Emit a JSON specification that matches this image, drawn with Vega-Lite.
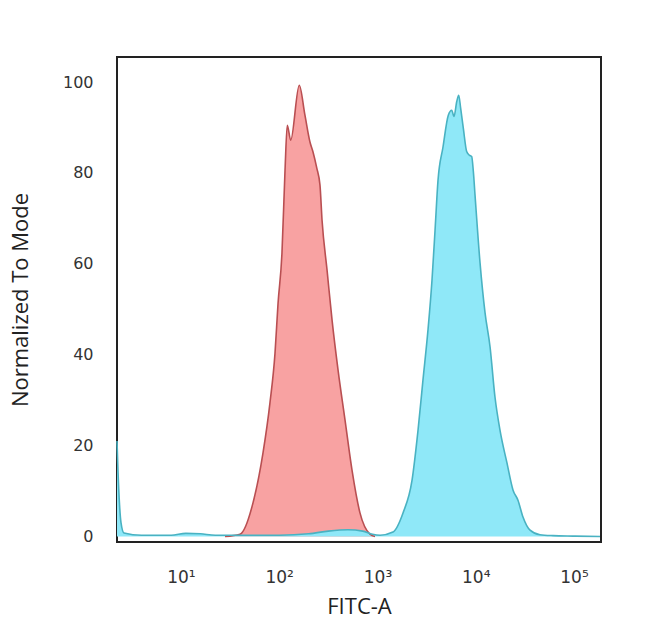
{
  "$schema": "https://vega.github.io/schema/vega-lite/v6.json",
  "width": 484,
  "height": 485,
  "autosize": {"type": "none"},
  "padding": {"left": 117, "top": 57, "right": 49, "bottom": 102},
  "background": "white",
  "config": {
    "view": {"stroke": "#222", "strokeWidth": 2},
    "axis": {"domain": false, "ticks": false, "grid": false, "labelFont": "DejaVu Sans", "labelColor": "#333", "titleFont": "Open Sans", "titleColor": "#222", "titleFontWeight": "normal"}
  },
  "data": {"values": [
    {"sample": "Control", "fitc": 28.1, "mode": 0},
    {"sample": "Control", "fitc": 39.9, "mode": 0.5},
    {"sample": "Control", "fitc": 54.1, "mode": 7.4},
    {"sample": "Control", "fitc": 68.4, "mode": 18.4},
    {"sample": "Control", "fitc": 80.5, "mode": 29.4},
    {"sample": "Control", "fitc": 90.6, "mode": 40.3},
    {"sample": "Control", "fitc": 97.3, "mode": 51.3},
    {"sample": "Control", "fitc": 106.7, "mode": 62.4},
    {"sample": "Control", "fitc": 114.6, "mode": 80.6},
    {"sample": "Control", "fitc": 120.8, "mode": 90.5},
    {"sample": "Control", "fitc": 130.9, "mode": 87.2},
    {"sample": "Control", "fitc": 160.0, "mode": 99.3},
    {"sample": "Control", "fitc": 182.8, "mode": 92.7},
    {"sample": "Control", "fitc": 205.6, "mode": 86.8},
    {"sample": "Control", "fitc": 220.8, "mode": 84.6},
    {"sample": "Control", "fitc": 241.0, "mode": 81.1},
    {"sample": "Control", "fitc": 260.0, "mode": 77.3},
    {"sample": "Control", "fitc": 272.9, "mode": 69.6},
    {"sample": "Control", "fitc": 306.9, "mode": 58.6},
    {"sample": "Control", "fitc": 345.1, "mode": 47.6},
    {"sample": "Control", "fitc": 397.2, "mode": 36.6},
    {"sample": "Control", "fitc": 467.7, "mode": 25.6},
    {"sample": "Control", "fitc": 550.8, "mode": 14.6},
    {"sample": "Control", "fitc": 663.7, "mode": 5.2},
    {"sample": "Control", "fitc": 839.5, "mode": 0.5},
    {"sample": "Control", "fitc": 944.1, "mode": 0},
    {"sample": "Stained", "fitc": 2.234, "mode": 21},
    {"sample": "Stained", "fitc": 2.291, "mode": 14},
    {"sample": "Stained", "fitc": 2.371, "mode": 7},
    {"sample": "Stained", "fitc": 2.455, "mode": 3},
    {"sample": "Stained", "fitc": 2.63, "mode": 0.8},
    {"sample": "Stained", "fitc": 3.98, "mode": 0.3},
    {"sample": "Stained", "fitc": 7.94, "mode": 0.3},
    {"sample": "Stained", "fitc": 11.2, "mode": 0.7},
    {"sample": "Stained", "fitc": 15.8, "mode": 0.6},
    {"sample": "Stained", "fitc": 22.4, "mode": 0.3},
    {"sample": "Stained", "fitc": 39.8, "mode": 0.3},
    {"sample": "Stained", "fitc": 100, "mode": 0.3},
    {"sample": "Stained", "fitc": 199.5, "mode": 0.6},
    {"sample": "Stained", "fitc": 316, "mode": 1.2},
    {"sample": "Stained", "fitc": 501, "mode": 1.5},
    {"sample": "Stained", "fitc": 708, "mode": 1.2},
    {"sample": "Stained", "fitc": 891, "mode": 0.5},
    {"sample": "Stained", "fitc": 1062, "mode": 0.3},
    {"sample": "Stained", "fitc": 1439, "mode": 1.0},
    {"sample": "Stained", "fitc": 1820, "mode": 5.2},
    {"sample": "Stained", "fitc": 2249, "mode": 12.4},
    {"sample": "Stained", "fitc": 2588, "mode": 23.4},
    {"sample": "Stained", "fitc": 2904, "mode": 34.4},
    {"sample": "Stained", "fitc": 3266, "mode": 45.4},
    {"sample": "Stained", "fitc": 3589, "mode": 56.4},
    {"sample": "Stained", "fitc": 3855, "mode": 67.4},
    {"sample": "Stained", "fitc": 4130, "mode": 78.3},
    {"sample": "Stained", "fitc": 4645, "mode": 85.7},
    {"sample": "Stained", "fitc": 5260, "mode": 92.7},
    {"sample": "Stained", "fitc": 5702, "mode": 93.8},
    {"sample": "Stained", "fitc": 6012, "mode": 92.4},
    {"sample": "Stained", "fitc": 6412, "mode": 95.7},
    {"sample": "Stained", "fitc": 6714, "mode": 97.1},
    {"sample": "Stained", "fitc": 7031, "mode": 94.2},
    {"sample": "Stained", "fitc": 7482, "mode": 89.8},
    {"sample": "Stained", "fitc": 8091, "mode": 84.7},
    {"sample": "Stained", "fitc": 8610, "mode": 83.9},
    {"sample": "Stained", "fitc": 9099, "mode": 83.6},
    {"sample": "Stained", "fitc": 9462, "mode": 80.3},
    {"sample": "Stained", "fitc": 9840, "mode": 75.1},
    {"sample": "Stained", "fitc": 11066, "mode": 60.2},
    {"sample": "Stained", "fitc": 12445, "mode": 49.2},
    {"sample": "Stained", "fitc": 13996, "mode": 41.7},
    {"sample": "Stained", "fitc": 15704, "mode": 30.7},
    {"sample": "Stained", "fitc": 17660, "mode": 23.4},
    {"sample": "Stained", "fitc": 20797, "mode": 16.2},
    {"sample": "Stained", "fitc": 23988, "mode": 10.2},
    {"sample": "Stained", "fitc": 26915, "mode": 8.0},
    {"sample": "Stained", "fitc": 30269, "mode": 4.3},
    {"sample": "Stained", "fitc": 35727, "mode": 1.4},
    {"sample": "Stained", "fitc": 45082, "mode": 0.4},
    {"sample": "Stained", "fitc": 61235, "mode": 0.2},
    {"sample": "Stained", "fitc": 97724, "mode": 0.1},
    {"sample": "Stained", "fitc": 184077, "mode": 0}
  ]},
  "encoding": {
    "x": {
      "field": "fitc", "type": "quantitative",
      "scale": {"type": "log", "domain": [2.234, 188400], "nice": false, "clamp": true},
      "axis": {"values": [10, 100, 1000, 10000, 100000], "labelExpr": "'10' + ['⁰','¹','²','³','⁴','⁵'][round(log(datum.value)/LN10)]", "labelFontSize": 17, "labelPadding": 27, "title": "FITC-A", "titleFontSize": 22, "titlePadding": 11}
    },
    "y": {
      "field": "mode", "type": "quantitative", "stack": null,
      "scale": {"domain": [-1.2, 105.5], "nice": false, "zero": false},
      "axis": {"values": [0, 20, 40, 60, 80, 100], "labelFontSize": 16, "labelPadding": 24, "title": "Normalized To Mode", "titleFontSize": 22, "titlePadding": 30}
    }
  },
  "layer": [
    {
      "mark": {"type": "area", "opacity": 1, "interpolate": "monotone"},
      "encoding": {
        "y2": {"datum": 0},
        "fill": {"field": "sample", "type": "nominal", "legend": null, "scale": {"domain": ["Control", "Stained"], "range": ["#f8a2a2", "#8fe8f8"]}}
      }
    },
    {
      "mark": {"type": "line", "strokeWidth": 1.6, "interpolate": "monotone"},
      "encoding": {
        "stroke": {"field": "sample", "type": "nominal", "legend": null, "scale": {"domain": ["Control", "Stained"], "range": ["#b94f52", "#49b2c2"]}}
      }
    }
  ]
}
